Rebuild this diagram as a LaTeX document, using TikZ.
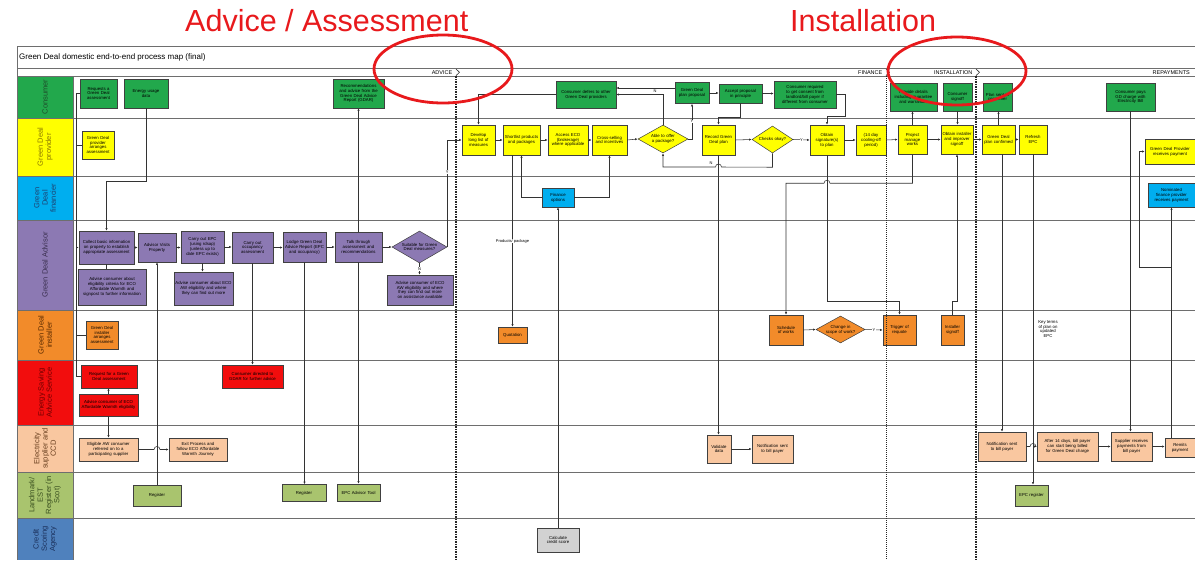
\documentclass[tikz,border=0pt]{standalone}
\usepackage{fontspec}
\setmainfont{Liberation Sans}
\usetikzlibrary{shapes.geometric,arrows.meta}
\definecolor{cgreen}{HTML}{22A84C}
\definecolor{cyellow}{HTML}{FFFF00}
\definecolor{ccyan}{HTML}{00AEEF}
\definecolor{cpurple}{HTML}{8C79B3}
\definecolor{corange}{HTML}{F28B2A}
\definecolor{cred}{HTML}{F20D0D}
\definecolor{cpeach}{HTML}{F9C7A0}
\definecolor{clgreen}{HTML}{A9C46E}
\definecolor{cblue}{HTML}{4F81BD}
\definecolor{cgray}{HTML}{D2D2D2}
\definecolor{lanegray}{HTML}{6E6E6E}
\definecolor{titlered}{HTML}{E8191C}
\definecolor{tconsumer}{HTML}{1E4D2B}
\definecolor{tprovider}{HTML}{8C7A00}
\definecolor{tfin}{HTML}{1F3F6E}
\definecolor{tadv}{HTML}{3B3050}
\definecolor{tinst}{HTML}{5A2A00}
\definecolor{tenergy}{HTML}{700000}
\definecolor{telec}{HTML}{6A4020}
\definecolor{tland}{HTML}{3A5020}
\definecolor{tcredit}{HTML}{1A2F5A}
\hyphenpenalty=10000
\exhyphenpenalty=10000
\newcommand{\bxfont}{\fontsize{4.3}{4.9}\selectfont\hyphenpenalty=10000\exhyphenpenalty=10000}
\newcommand{\lanefont}{\fontsize{7.5}{8.3}\selectfont}
\tikzset{
  sz/.code 2 args={\pgfmathsetmacro\tw{#1-2.5}\edef\tmp{\noexpand\pgfkeysalso{minimum width=#1pt, minimum height=#2pt, text width=\tw pt}}\tmp},
  dsz/.code n args={3}{\pgfmathsetmacro\asp{#1/#2}\edef\tmp{\noexpand\pgfkeysalso{minimum width=#1pt, minimum height=#2pt, text width=#3pt, shape aspect=\asp}}\tmp},
  bx/.style={draw=black!75, line width=0.5pt, rectangle, align=center, inner sep=0.5pt, font=\bxfont, text=black},
  dm/.style={draw=black!75, line width=0.5pt, diamond, align=center, inner sep=0pt, font=\bxfont, text=black},
  lanelbl/.style={rotate=90, align=center, font=\lanefont},
  ln/.style={draw=black!80, line width=0.55pt},
  arr/.style={ln, -{Latex[length=2.6pt,width=2.2pt]}},
  lbl/.style={font=\fontsize{4}{4.5}\selectfont, inner sep=0.5pt, fill=white},
  freetxt/.style={font=\bxfont, align=center, inner sep=0.5pt},
  lane/.style={draw=lanegray, line width=0.8pt},
  phasethick/.style={draw=black!85, line width=1.3pt, dash pattern=on 1.5pt off 1pt},
  phasethin/.style={draw=black!85, line width=0.8pt, dash pattern=on 1pt off 1pt},
  chev/.style={draw=black!80, line width=0.6pt},
  hdr/.style={font=\fontsize{5.5}{6}\selectfont, inner sep=0.5pt},
  bigred/.style={font=\fontsize{30.5}{32}\selectfont, text=titlered, inner sep=0pt},
  ring/.style={draw=titlered, line width=2.8pt}
}
\begin{document}
\begin{tikzpicture}[x=1pt,y=-1pt]
\useasboundingbox (0,0) rectangle (1195,560);
\fill[white] (0,0) rectangle (1195,560);

% ---- red titles
\node[bigred, anchor=base west] (tadvice) at (185,31) {Advice / Assessment};
\node[bigred, anchor=base west] (tinstall) at (790,31) {Installation};

% ---- lane label cells
\fill[cgreen]  (17,76)  rectangle (73,118);
\fill[cyellow] (17,118) rectangle (73,176);
\fill[ccyan]   (17,176) rectangle (73,220);
\fill[cpurple] (17,220) rectangle (73,310);
\fill[corange] (17,310) rectangle (73,360);
\fill[cred]    (17,360) rectangle (73,425);
\fill[cpeach]  (17,425) rectangle (73,472);
\fill[clgreen] (17,472) rectangle (73,518);
\fill[cblue]   (17,518) rectangle (73,560);

\node[lanelbl, text=tconsumer] (l1) at (45,97) {Consumer};
\node[lanelbl, text=tprovider] (l2) at (45,147) {Green Deal\\provider};
\node[lanelbl, text=tfin] (l3) at (45,198) {Green\\Deal\\financier};
\node[lanelbl, text=tadv] (l4) at (45,265) {Green Deal Advisor};
\node[lanelbl, text=tinst] (l5) at (45,335) {Green Deal\\installer};
\node[lanelbl, text=tenergy] (l6) at (45,392.5) {Energy Saving\\Advice Service};
\node[lanelbl, text=telec] (l7) at (45,448.5) {Electricity\\supplier and\\CCD};
\node[lanelbl, text=tland] (l8) at (45,495) {Landmark/\\EST\\Register (in\\Scot)};
\node[lanelbl, text=tcredit] (l9) at (45,539) {Credit\\Scoring\\Agency};

% ---- frame and lane lines
\draw[lane] (17,46) -- (1195,46);
\draw[lane] (17,68) -- (1195,68);
\foreach \yy in {76,118,176,220,310,360,425,472,518} \draw[lane] (17,\yy) -- (1195,\yy);
\draw[lane] (17,46) -- (17,560);
\draw[lane] (73,76) -- (73,560);
\node[anchor=west, font=\fontsize{8}{9}\selectfont, inner sep=0pt] (title) at (19,57) {Green Deal domestic end-to-end process map (final)};

% ---- phase header
\node[hdr, anchor=east] (hadv) at (453,72.3) {ADVICE};
\node[hdr, anchor=east] (hfin) at (883,72.3) {FINANCE};
\node[hdr, anchor=east] (hins) at (973,72.3) {INSTALLATION};
\node[hdr, anchor=west] (hrep) at (1152,72.3) {REPAYMENTS};
\draw[chev] (456,69) -- (459.5,72.3) -- (456,75.6);
\draw[chev] (886,69) -- (889.5,72.3) -- (886,75.6);
\draw[chev] (976,69) -- (979.5,72.3) -- (976,75.6);

% ================= NODES
% Consumer
\node[bx, fill=cgreen, sz={37}{29}] (reqA) at (98.5,93.5) {Requests a Green Deal assessment};
\node[bx, fill=cgreen, sz={44}{29}] (usage) at (146,93.5) {Energy usage\\data};
\node[bx, fill=cgreen, sz={51}{29}] (gdar) at (358.5,93.5) {Recommendations and advice from the Green Deal Advice Report (GDAR)};
\node[bx, fill=cgreen, sz={60}{27}] (defers) at (586,94.5) {Consumer defers to other Green Deal providers};
\node[bx, fill=cgreen, sz={34}{21}] (proposal) at (692,93) {Green Deal plan proposal};
\node[bx, fill=cgreen, sz={43}{19}] (accept) at (740.5,93.5) {Accept proposal in principle};
\node[bx, fill=cgreen, sz={62}{27}] (consent) at (805,94.5) {Consumer required to get consent from landlord/bill payer if different from consumer};
\node[bx, fill=cgreen, sz={47}{28}] (details) at (913.5,97) {Provide details including guarantee and warranties};
\node[bx, fill=cgreen, sz={29}{28}] (signoffC) at (957.5,97) {Consumer signoff};
\node[bx, fill=cgreen, sz={29}{28}] (plansent) at (997.5,97) {Plan sent to consumer};
\node[bx, fill=cgreen, sz={49}{28}] (pays) at (1130.5,97) {Consumer pays GD charge with Electricity Bill};

% Provider
\node[bx, fill=cyellow, sz={32}{28}] (arranges) at (98,145) {Green Deal provider arranges assessment};
\node[bx, fill=cyellow, sz={33}{30}] (develop) at (478.5,140) {Develop long list of measures};
\node[bx, fill=cyellow, sz={37}{30}] (shortlist) at (521.5,140) {Shortlist products and packages};
\node[bx, fill=cyellow, sz={40}{30}] (access) at (568,140) {Access ECO (brokerage) where applicable};
\node[bx, fill=cyellow, sz={35}{30}] (cross) at (609.5,140) {Cross-selling and incentives};
\node[dm, fill=cyellow, dsz={50}{28}{33}] (able) at (663,139) {Able to offer a package?};
\node[bx, fill=cyellow, sz={33}{30}] (record) at (718.5,140) {Record Green Deal plan};
\node[dm, fill=cyellow, dsz={41}{27}{29}] (checks) at (772.5,139.5) {Checks okay?};
\node[bx, fill=cyellow, sz={34}{30}] (sign) at (827,140) {Obtain signature(s) to plan};
\node[bx, fill=cyellow, sz={30}{30}] (cool) at (871,140) {(14 day cooling-off period)};
\node[bx, fill=cyellow, sz={29}{29}] (manage) at (912.5,139.5) {Project manage works};
\node[bx, fill=cyellow, sz={32}{29}] (isign) at (957,139.5) {Obtain installer and improver signoff};
\node[bx, fill=cyellow, sz={33}{29}] (confirmed) at (998.5,139.5) {Green Deal plan confirmed};
\node[bx, fill=cyellow, sz={28}{29}] (refresh) at (1033,139.5) {Refresh\\EPC};
\node[bx, fill=cyellow, sz={50}{25}] (gdpay) at (1170,151.5) {Green Deal Provider receives payment};

% Financier
\node[bx, fill=ccyan, sz={32}{19}] (finopt) at (558,197.5) {Finance options};
\node[bx, fill=ccyan, sz={47}{24}] (nomfin) at (1171.5,195) {Nominated finance provider receives payment};

% Advisor
\node[bx, fill=cpurple, sz={55}{33}] (collect) at (106.5,247.5) {Collect basic information on property to establish appropriate assessment};
\node[bx, fill=cpurple, sz={68}{36}] (advelig) at (112,287) {Advise consumer about eligibility criteria for ECO Affordable Warmth and signpost to further information};
\node[bx, fill=cpurple, sz={38}{29}] (visits) at (157,247.5) {Advisor Visits Property};
\node[bx, fill=cpurple, sz={43}{32}] (epc) at (202.5,247) {Carry out EPC (using rdsap) (unless up to date EPC exists)};
\node[bx, fill=cpurple, sz={59}{33}] (advaw) at (203.5,288.5) {Advise consumer about ECO AW eligibility and where they can find out more};
\node[bx, fill=cpurple, sz={41}{31}] (occup) at (252.5,247.5) {Carry out occupancy assessment};
\node[bx, fill=cpurple, sz={43}{30}] (lodge) at (304.5,247) {Lodge Green Deal Advice Report (EPC and occupancy)};
\node[bx, fill=cpurple, sz={47}{30}] (talk) at (358.5,247) {Talk through assessment and recommendations};
\node[dm, fill=cpurple, dsz={55}{32}{37}] (suitable) at (419.5,247) {Suitable for Green Deal measures?};
\node[bx, fill=cpurple, sz={66}{30}] (advaw2) at (420,290) {Advise consumer of ECO AW eligibility and where they can find out more on assistance available};

% Installer
\node[bx, fill=corange, sz={32}{28}] (iarr) at (102,335) {Green Deal installer arranges assessment};
\node[bx, fill=corange, sz={29}{16}] (quote) at (512.5,335) {Quotation};
\node[bx, fill=corange, sz={34}{30}] (sched) at (786,330) {Schedule of works};
\node[dm, fill=corange, dsz={49}{27}{32}] (scope) at (840.5,329.5) {Change in scope of work?};
\node[bx, fill=corange, sz={33}{30}] (requote) at (899.5,330) {Trigger of requote};
\node[bx, fill=corange, sz={23}{30}] (isignoff) at (952.5,330) {Installer signoff};
\node[freetxt] (keyterms) at (1048,329) {Key terms\\of plan on\\updated\\EPC};

% Energy Saving Advice Service
\node[bx, fill=cred, sz={56}{23}] (esreq) at (109,376.5) {Request for a Green Deal assessment};
\node[bx, fill=cred, sz={59}{22}] (esadv) at (108.5,405) {Advise consumer of ECO Affordable Warmth eligibility};
\node[bx, fill=cred, sz={61}{23}] (esdir) at (252.5,376.5) {Consumer directed to GDAR for further advice};

% Electricity supplier
\node[bx, fill=cpeach, sz={59}{23}] (eligible) at (108.5,449.5) {Eligible AW consumer referred on to a participating supplier};
\node[bx, fill=cpeach, sz={58}{23}] (exit) at (198,449.5) {Exit Process and follow ECO Affordable Warmth Journey};
\node[bx, fill=cpeach, sz={24}{28}] (validate) at (719,449) {Validate data};
\node[bx, fill=cpeach, sz={41}{28}] (notif1) at (772.5,449) {Notification sent to bill payer};
\node[bx, fill=cpeach, sz={48}{29}] (notif2) at (1002,446.5) {Notification sent to bill payer};
\node[bx, fill=cpeach, sz={61}{29}] (after) at (1067.5,446.5) {After 14 days, bill payer can start being billed for Green Deal charge};
\node[bx, fill=cpeach, sz={41}{29}] (supplier) at (1131.5,446.5) {Supplier receives payments from bill payer};
\node[bx, fill=cpeach, sz={30}{19}] (remits) at (1180,447.5) {Remits payment};

% Landmark
\node[bx, fill=clgreen, sz={48}{21}] (reg1) at (157,495.5) {Register};
\node[bx, fill=clgreen, sz={44}{17}] (reg2) at (304,493) {Register};
\node[bx, fill=clgreen, sz={43}{17}] (tool) at (358.5,492.5) {EPC Advisor Tool};
\node[bx, fill=clgreen, sz={33}{21}] (epcreg) at (1031.5,495.5) {EPC register};

% Credit
\node[bx, fill=cgray, sz={42}{24}] (credit) at (558,540) {Calculate credit score};

% ================= CONNECTORS
% left bus
\coordinate (busT) at (76,93.5);
\coordinate (busB) at (76,376.5);
\draw[ln] (reqA.west) -- (busT) -- (busB) -- (esreq.west);
\draw[ln] (arranges.west) -- (arranges.west -| busT);
\draw[arr] (collect.west -| busT) -- (collect.west);
\draw[ln] (iarr.west) -- (iarr.west -| busT);

\draw[arr] (usage.south) -- ++(0,73) -| (collect.north);
\draw[arr] (collect.east) -- (visits.west);
\draw[ln] (collect.south) -- (collect.south |- advelig.north);
\draw[arr] (visits.east) -- (visits.east -| epc.west);
\draw[arr] (epc.east) -- (epc.east -| occup.west);
\draw[arr] (occup.east) -- (occup.east -| lodge.west);
\draw[arr] (lodge.east) -- (lodge.east -| talk.west);
\draw[arr] (talk.east) -- (suitable.west);
\draw[arr] (epc.south) -- (epc.south |- advaw.north);
\draw[arr] (reg1.north) -- (visits.south);
\draw[arr] (occup.south) -- (occup.south |- esdir.north);
\draw[arr] (lodge.south) -- (lodge.south |- reg2.north);
\draw[arr] (talk.north) -- (gdar.south);
\draw[arr] (talk.south) -- (tool.north);
\draw[arr] (suitable.east) |- node[lbl, pos=0.35] {Y} (develop.west);
\draw[arr] (suitable.south) -- node[lbl] {N} (suitable.south |- advaw2.north);
\draw[arr] (esadv.north) -- (esadv.north |- esreq.south);
\draw[arr] (esadv.south) -- (esadv.south |- eligible.north);
\draw[arr] (eligible.east) -- (154,449.5) .. controls (154,445.5) and (160,445.5) .. (160,449.5) -- (exit.west);

% finance / provider
\draw[arr] (defers.west) -| (develop.north);
\draw[arr] (develop.east) -- (shortlist.west);
\draw[arr] (shortlist.east) -- (access.west);
\draw[arr] (access.east) -- (cross.west);
\draw[arr] (cross.east) -- (able.west);
\draw[arr] (able.north) |- (defers.east);
\node[lbl, fill=none] (nable) at (655,91) {N};
\draw[arr] ([yshift=5pt]proposal.west) -- ([yshift=5pt]proposal.west -| defers.east);
\draw[arr] (able.east) -| node[lbl, pos=0.75] {Y} (proposal.south);
\draw[arr] (proposal.east) -- (proposal.east -| accept.west);
\draw[arr] (accept.south) -- ++(0,14) -| (record.north);
\draw[arr] (accept.east) -- (accept.east -| consent.west);
\draw[arr] (consent.east) -- ++(9,0) |- ([yshift=8pt]sign.north) -- (sign.north);
\draw[arr] (record.east) -- (checks.west);
\draw[arr] (checks.east) -- node[lbl] {Y} (sign.west);
\draw[arr] (checks.south) -- ++(0,14) -- (721.5,167) .. controls (721.5,163) and (715.5,163) .. (715.5,167) -| (able.south);
\node[lbl, fill=none] (nchk) at (711,163.5) {N};
\draw[arr] (finopt.east) -| (cross.south);
\draw[arr] (finopt.west) -| (shortlist.south);
\draw[arr] (credit.north) -- (finopt.south);
\draw[arr] ([xshift=-9pt]shortlist.south) -- node[lbl, pos=0.5] (prodlbl) {Products/ package} (quote.north);
\draw[arr] (record.south) -- (record.south |- validate.north);
\draw[arr] (validate.east) -- (validate.east -| notif1.west);

% installation
\draw[arr] (sign.east) -- (cool.west);
\draw[arr] (cool.east) -- (manage.west);
\draw[arr] (manage.east) -- (isign.west);
\draw[arr] (isign.east) -- (confirmed.west);
\draw[arr] (confirmed.east) -- (refresh.west);
\draw[arr] (manage.north) -- (manage.north |- details.south);
\draw[arr] (signoffC.south) -- (signoffC.south |- isign.north);
\draw[arr] (confirmed.north) -- (confirmed.north |- plansent.south);
\draw[arr] (sign.south) |- ([yshift=13pt]requote.north) -- (requote.north);
\draw[arr] (manage.south) -- ++(0,29) -- ++(-82.5,0) .. controls ++(0,-4) and ++(0,-4) .. ++(-6,0) -| (sched.north);
\draw[arr] (sched.east) -- (scope.west);
\draw[arr] (scope.east) -- node[lbl] {Y} (requote.west);
\draw[arr] (isignoff.north) -- ++(0,-13) -| (isign.south);

% repayments
\draw[arr] (notif2.north |- confirmed.south) -- (notif2.north);
\draw[arr] (refresh.south) -- (refresh.south |- epcreg.north);
\draw[arr] (notif2.east) -- (1030,446.5) .. controls (1030,442.5) and (1036,442.5) .. (1036,446.5) -- (after.west);
\draw[arr] (after.east) -- (supplier.west);
\draw[arr] (supplier.east) -- (supplier.east -| remits.west);
\draw[arr] (pays.south) -- (pays.south |- supplier.north);
\draw[arr] (remits.north -| nomfin.south) -- (nomfin.south);
\coordinate (br) at (1171.5,267);
\draw[arr] (br) -- ++(-32.5,0) |- (gdpay.west);

% phase separators
\draw[phasethick] (456,76) -- (456,560);
\draw[phasethin] (886,76) -- (886,560);
\draw[phasethick] (976,76) -- (976,560);

% red rings
\draw[ring] (443,69) ellipse [x radius=69pt, y radius=34pt];
\draw[ring] (957,71) ellipse [x radius=69pt, y radius=34pt];
\end{tikzpicture}
\end{document}
